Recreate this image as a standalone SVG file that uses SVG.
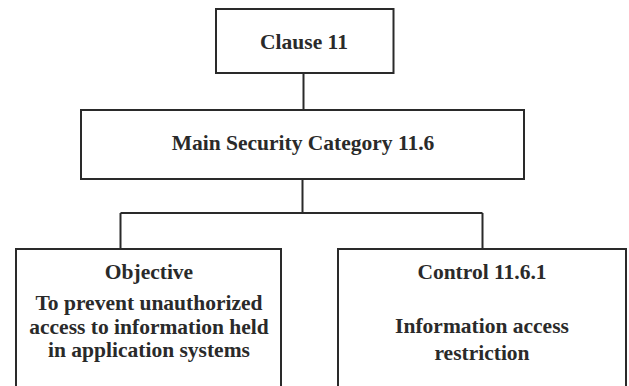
<svg xmlns="http://www.w3.org/2000/svg" width="629" height="386" viewBox="0 0 629 386">
<style>
.box{fill:#fff;stroke:#2a2a2a;stroke-width:2}
.ln{fill:none;stroke:#2a2a2a;stroke-width:2}
text{font-family:"Liberation Serif","Times New Roman",serif;font-weight:bold;font-size:21.5px;fill:#2a2a2a;text-anchor:middle}
</style>
<rect width="629" height="386" fill="#fff"/>
<g id="connectors">
<path class="ln" d="M303.5 73 V110"/>
<path class="ln" d="M302.5 179 V213 M120.5 213 H482.5 M120.5 213 V249 M482.5 213 V249"/>
</g>
<g id="clause">
<rect class="box" x="216" y="9" width="177.5" height="64"/>
<text x="304" y="49">Clause 11</text>
</g>
<g id="main">
<rect class="box" x="81" y="110" width="443" height="69"/>
<text x="303" y="150">Main Security Category 11.6</text>
</g>
<g id="objective">
<rect class="box" x="16" y="249" width="265" height="150"/>
<text x="149" y="279">Objective</text>
<text x="149" y="310">To prevent unauthorized</text>
<text x="149" y="333.5">access to information held</text>
<text x="149" y="357">in application systems</text>
</g>
<g id="control">
<rect class="box" x="338" y="249" width="288" height="150"/>
<text x="482" y="279">Control 11.6.1</text>
<text x="482" y="332.5">Information access</text>
<text x="482" y="359.5">restriction</text>
</g>
</svg>
